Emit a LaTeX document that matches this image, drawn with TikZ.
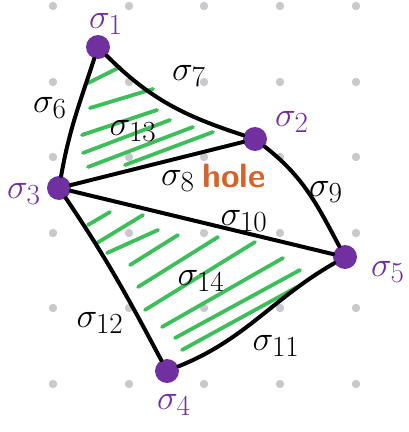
\documentclass[tikz,border=0pt]{standalone}
\usepackage{amsmath,amssymb}
\usetikzlibrary{positioning}

\definecolor{vpurple}{RGB}{112,48,160}
\definecolor{hgreen}{RGB}{60,190,90}
\definecolor{horange}{RGB}{212,100,42}
\definecolor{dotgray}{RGB}{200,200,205}

\begin{document}
\begin{tikzpicture}[x=0.25mm,y=0.25mm,
    vertex/.style={circle,fill=vpurple,inner sep=0pt,minimum size=6mm},
    edge/.style={line width=1mm,line cap=round},
    hatch/.style={hgreen,line width=0.95mm,line cap=round},
    vlbl/.style={text=vpurple,inner sep=1pt,font=\fontsize{30}{30}\selectfont},
    elbl/.style={inner sep=1pt,font=\fontsize{28}{28}\selectfont}]
    \useasboundingbox (0,0) rectangle (409,432);
    % grid of dots
    \foreach \gx in {53,129,204,280,356}
        \foreach \gy in {48,124,199,275,350,426}
            \fill[dotgray] (\gx,\gy) circle (1.05mm);
    % hatching
    \foreach \ax/\ay/\bx/\by in {88/349/120/365, 90/324/153/343, 82/297/157/322,
        83/279/170/312, 88/265/193/305, 125/267/213/300}
        \draw[hatch] (\ax,\ay) -- (\bx,\by);
    \foreach \ax/\ay/\bx/\by in {88/207/110/220, 97/189/143/217, 107/179/158/202,
        130/167/178/197, 138/145/218/195, 145/122/255/190, 162/105/283/174,
        175/94/300/162, 182/82/297/145}
        \draw[hatch] (\ax,\ay) -- (\bx,\by);
    % vertices
    \node[vertex] (s1) at (98,385) {};
    \node[vertex] (s2) at (255,293) {};
    \node[vertex] (s3) at (59,244) {};
    \node[vertex] (s4) at (167,61) {};
    \node[vertex] (s5) at (345,175) {};
    % edges
    \draw[edge] (s1) to[out=-45,in=162] (s2);
    \draw[edge] (s1) to[out=252,in=80] (s3);
    \draw[edge] (s3) -- (s2);
    \draw[edge] (s3) -- (s5);
    \draw[edge] (s2) to[out=-38,in=118] (s5);
    \draw[edge] (s3) to[out=-56,in=118] (s4);
    \draw[edge] (s4) to[out=22,in=-150] (s5);
    % labels
    \node[vlbl] (l1) at (106,408) {$\sigma_1$};
    \node[vlbl] (l2) at (292,310) {$\sigma_2$};
    \node[vlbl] (l3) at (24,238) {$\sigma_3$};
    \node[vlbl] (l4) at (174,27) {$\sigma_4$};
    \node[vlbl] (l5) at (388,160) {$\sigma_5$};
    \node[elbl] (l6) at (50,324) {$\sigma_6$};
    \node[elbl] (l7) at (189,356) {$\sigma_7$};
    \node[elbl] (l8) at (178,251) {$\sigma_8$};
    \node[elbl] (l9) at (326,240) {$\sigma_9$};
    \node[elbl] (l10) at (244,211) {$\sigma_{10}$};
    \node[elbl] (l11) at (276,86) {$\sigma_{11}$};
    \node[elbl] (l12) at (100,109) {$\sigma_{12}$};
    \node[elbl] (l13) at (133,301) {$\sigma_{13}$};
    \node[elbl] (l14) at (201,151) {$\sigma_{14}$};
    \node[text=horange,inner sep=1pt,font=\sffamily\bfseries\fontsize{24}{24}\selectfont]
        (hole) at (234,256) {hole};
\end{tikzpicture}
\end{document}
